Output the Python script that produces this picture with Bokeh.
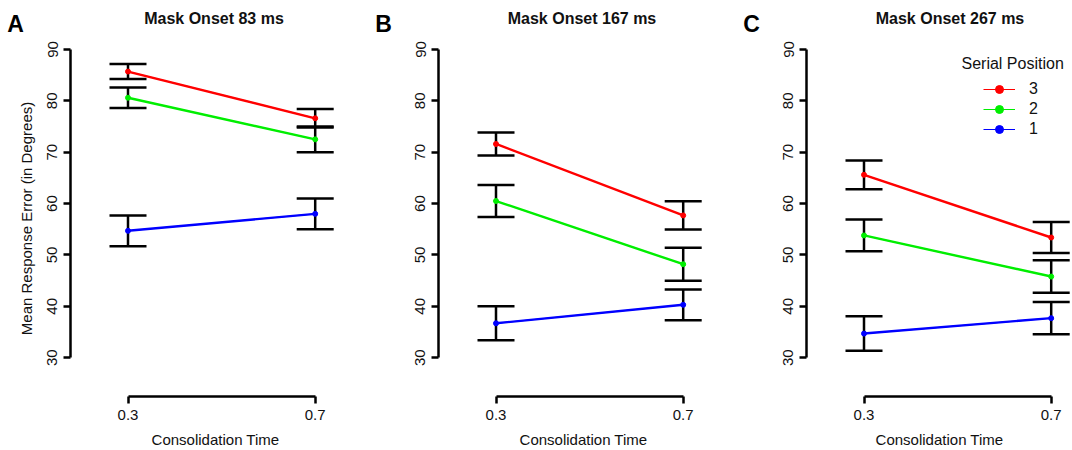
from bokeh.plotting import figure
from bokeh.models import (ColumnDataSource, Whisker, TeeHead, Label, Legend,
                          LegendItem, FixedTicker, Range1d)
from bokeh.layouts import row, column
from bokeh.embed import file_html
from bokeh.resources import INLINE

# ---------------- data ----------------
consolidation_time = [0.3, 0.7]
y_ticks = [30, 40, 50, 60, 70, 80, 90]
panel_letters = ["A", "B", "C"]
panel_titles = ["Mask Onset 83 ms", "Mask Onset 167 ms", "Mask Onset 267 ms"]
serial_positions = ["3", "2", "1"]
series_colors = ["#ff0000", "#00ee00", "#0000ff"]

# rows: serial position 3, 2, 1 ; columns: consolidation time 0.3, 0.7
mean_83 = [[85.7, 76.6], [80.6, 72.5], [54.7, 58.0]]
se_83 = [[1.45, 1.8], [2.0, 2.5], [3.0, 3.0]]
mean_167 = [[71.6, 57.7], [60.5, 48.2], [36.7, 40.3]]
se_167 = [[2.25, 2.75], [3.1, 3.2], [3.3, 3.0]]
mean_267 = [[65.6, 53.4], [53.8, 45.8], [34.7, 37.7]]
se_267 = [[2.8, 3.0], [3.1, 3.15], [3.35, 3.15]]

panel_means = [mean_83, mean_167, mean_267]
panel_ses = [se_83, se_167, se_267]

# ---------------- styling / geometry ----------------
FONT = "Liberation Sans"
TXT = "#111111"
PXX = 468.0            # px per x unit
PXY = 310.0 / 60.0     # px per y unit
W_TOTAL, H_TOTAL = 1072, 450
HEAD = 36              # header strip holding panel letters and titles
H = H_TOTAL - HEAD
LB, TB, BB = 70, 4, 52
widths = [368, 368, 336]
right_borders = [8, 8, 0]
panel_lefts = [0, 368, 736]


def make_panel(i):
    w = widths[i]
    rb = right_borders[i]
    fw = w - LB - rb
    fh = H - TB - BB
    xs = 0.3 - 57.5 / PXX
    xe = xs + fw / PXX
    ye = 90 + 9 / PXY
    ys = ye - fh / PXY

    p = figure(width=w, height=H, output_backend="svg", toolbar_location=None,
               x_range=Range1d(xs, xe), y_range=Range1d(ys, ye),
               min_border_left=LB, min_border_right=rb,
               min_border_top=TB, min_border_bottom=BB,
               background_fill_color="white", border_fill_color="white")
    p.outline_line_color = None
    p.grid.visible = False

    for ax in (p.xaxis[0], p.yaxis[0]):
        ax.axis_line_width = 2.5
        ax.axis_line_color = "black"
        ax.major_tick_line_width = 2.5
        ax.major_tick_line_color = "black"
        ax.major_tick_in = 0
        ax.major_tick_out = 7
        ax.minor_tick_line_color = None
        ax.major_label_text_font = FONT
        ax.major_label_text_font_size = "15px"
        ax.major_label_text_color = TXT
        ax.major_label_standoff = 6
        ax.axis_label_text_font = FONT
        ax.axis_label_text_font_size = "15px"
        ax.axis_label_text_font_style = "normal"
        ax.axis_label_text_color = TXT
    p.xaxis.ticker = FixedTicker(ticks=consolidation_time)
    p.xaxis.bounds = (consolidation_time[0], consolidation_time[-1])
    p.xaxis.axis_label = "Consolidation Time"
    p.xaxis.axis_label_standoff = 8
    p.yaxis.ticker = FixedTicker(ticks=y_ticks)
    p.yaxis.bounds = (y_ticks[0], y_ticks[-1])
    p.yaxis.major_label_orientation = "vertical"
    if i == 0:
        p.yaxis.axis_label = "Mean Response Error (in Degrees)"
        p.yaxis.axis_label_standoff = 10

    means = panel_means[i]
    ses = panel_ses[i]
    items = []
    for k, sp in enumerate(serial_positions):
        m = means[k]
        s = ses[k]
        src = ColumnDataSource(dict(
            base=consolidation_time, y=m,
            upper=[a + b for a, b in zip(m, s)],
            lower=[a - b for a, b in zip(m, s)]))
        wh = Whisker(base="base", upper="upper", lower="lower", source=src,
                     line_width=2.5, line_color="black", level="underlay",
                     upper_head=TeeHead(size=37, line_width=2.5, line_color="black"),
                     lower_head=TeeHead(size=37, line_width=2.5, line_color="black"))
        p.add_layout(wh)
        thin = p.line("base", "y", source=src, line_color=series_colors[k], line_width=1)
        p.line("base", "y", source=src, line_color=series_colors[k], line_width=2.4)
        dots = p.scatter("base", "y", source=src, size=5, color=series_colors[k])
        items.append(LegendItem(label=sp, renderers=[thin, dots]))

    if i == 2:
        leg = Legend(items=items, location=(177, 257), padding=0, margin=0,
                     spacing=0, glyph_width=32, glyph_height=20, label_height=20,
                     label_standoff=14, label_text_font=FONT,
                     label_text_font_size="16px", label_text_color=TXT,
                     border_line_color=None, background_fill_alpha=0)
        p.add_layout(leg)
        p.add_layout(Label(x=155, y=333, x_units="screen", y_units="screen",
                           text="Serial Position", text_font=FONT,
                           text_font_size="16px", text_color=TXT,
                           text_align="left", text_baseline="middle"))
    return p


# header strip: panel letters and panel titles (pixel-based ranges)
header = figure(width=W_TOTAL, height=HEAD, output_backend="svg", toolbar_location=None,
                x_range=Range1d(0, W_TOTAL), y_range=Range1d(HEAD, 0),
                x_axis_location=None, y_axis_location=None,
                min_border_left=0, min_border_right=0, min_border_top=0, min_border_bottom=0,
                background_fill_color="white", border_fill_color="white")
header.outline_line_color = None
header.grid.visible = False
for i in range(3):
    header.add_layout(Label(x=panel_lefts[i] + LB - 55, y=23, text=panel_letters[i],
                            text_font=FONT, text_font_style="bold",
                            text_font_size="23px", text_color="black",
                            text_align="center", text_baseline="middle"))
    header.add_layout(Label(x=panel_lefts[i] + LB + 143.5, y=18, text=panel_titles[i],
                            text_font=FONT, text_font_style="bold",
                            text_font_size="16px", text_color=TXT,
                            text_align="center", text_baseline="middle"))

panels = [make_panel(i) for i in range(3)]
layout = column(header, row(*panels, spacing=0), spacing=0)
open("out.html", "w").write(file_html(layout, INLINE))
